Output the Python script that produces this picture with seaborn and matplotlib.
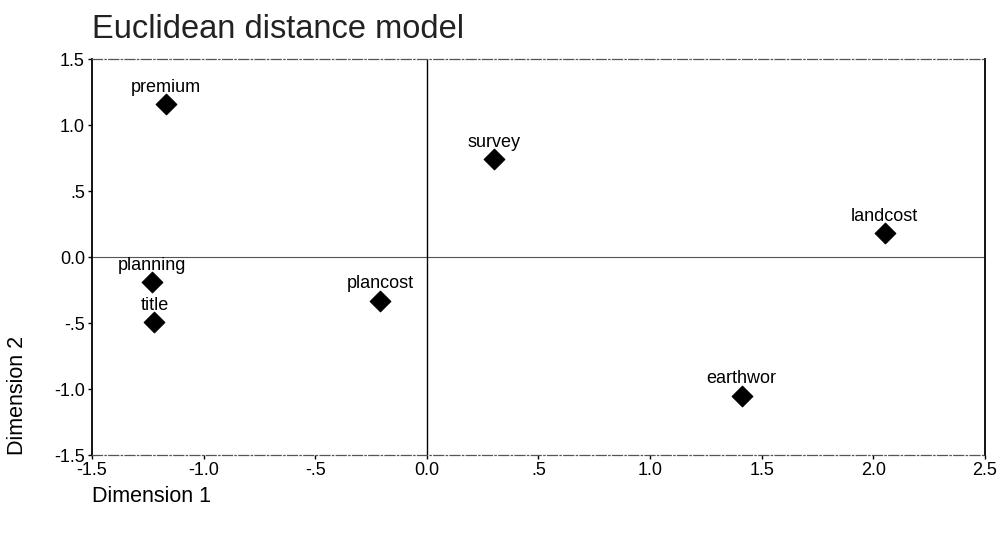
import numpy as np
import pandas as pd
import matplotlib
matplotlib.use("Agg")
import matplotlib.pyplot as plt
import seaborn as sns

# Stimulus coordinates
labels = ["premium", "survey", "landcost", "planning", "title", "plancost", "earthwor"]
dim1 = [-1.17, 0.30, 2.05, -1.23, -1.22, -0.21, 1.41]
dim2 = [1.16, 0.74, 0.18, -0.19, -0.49, -0.33, -1.05]

xticks = [-1.5, -1.0, -0.5, 0.0, 0.5, 1.0, 1.5, 2.0, 2.5]
xticklabels = ["-1.5", "-1.0", "-.5", "0.0", ".5", "1.0", "1.5", "2.0", "2.5"]
yticks = [-1.5, -1.0, -0.5, 0.0, 0.5, 1.0, 1.5]
yticklabels = ["-1.5", "-1.0", "-.5", "0.0", ".5", "1.0", "1.5"]

df = pd.DataFrame({"label": labels, "Dimension 1": dim1, "Dimension 2": dim2})

sns.set_style("white")
plt.rcParams["font.family"] = ["Liberation Sans", "DejaVu Sans"]
plt.rcParams["text.color"] = "black"
plt.rcParams["xtick.color"] = "black"
plt.rcParams["ytick.color"] = "black"

fig = plt.figure(figsize=(9.99, 5.33), dpi=100)
ax = fig.add_axes([0.092, 0.146, 0.894, 0.743])

ax.axhline(0, color="#555555", lw=0.8, zorder=1)
ax.axvline(0, color="black", lw=1.0, zorder=1)

sns.scatterplot(data=df, x="Dimension 1", y="Dimension 2", marker="D", s=110,
                color="black", edgecolor="black", ax=ax, zorder=3)

for _, r in df.iterrows():
    ax.annotate(r["label"], (r["Dimension 1"], r["Dimension 2"]), xytext=(0, 6),
                textcoords="offset points", ha="center", va="bottom", fontsize=13)

ax.set_xlim(-1.5, 2.5)
ax.set_ylim(-1.5, 1.5)
ax.set_xticks(xticks)
ax.set_xticklabels(xticklabels, fontsize=13)
ax.set_yticks(yticks)
ax.set_yticklabels(yticklabels, fontsize=13)
ax.tick_params(axis="both", direction="out", length=3, width=1, color="black", pad=2)
ax.tick_params(axis="x", bottom=True)
ax.tick_params(axis="y", left=True)

for side in ["left", "right"]:
    ax.spines[side].set_color("black")
    ax.spines[side].set_linewidth(1.3)
for side in ["top", "bottom"]:
    ax.spines[side].set_color("#555555")
    ax.spines[side].set_linewidth(0.9)
    ax.spines[side].set_linestyle((0, (8, 2, 1, 2)))

ax.set_xlabel("")
ax.set_ylabel("")
fig.text(0.092, 0.068, "Dimension 1", fontsize=15.5, ha="left", va="center")
fig.text(0.018, 0.146, "Dimension 2", fontsize=15.5, rotation=90, ha="center", va="bottom")
fig.text(0.092, 0.945, "Euclidean distance model", fontsize=23.5, ha="left", va="center",
         color="#222222")

fig.savefig("out.png", dpi=100)
